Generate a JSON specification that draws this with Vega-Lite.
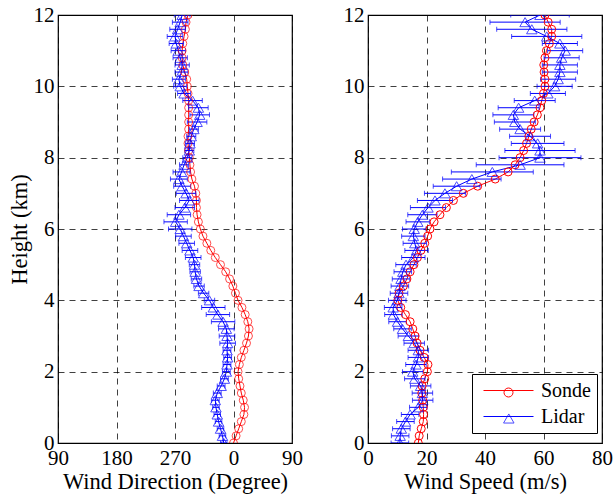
{
  "$schema": "https://vega.github.io/schema/vega-lite/v6.json",
  "padding": {"left": 7, "top": 3, "right": 5, "bottom": 2},
  "config": {
    "font": "Liberation Serif",
    "view": {"stroke": "black", "strokeWidth": 1.2},
    "axis": {
      "labelFont": "Liberation Serif", "labelFontSize": 21, "labelColor": "black",
      "titleFont": "Liberation Serif", "titleFontSize": 22.5, "titleFontWeight": "normal", "titleColor": "black",
      "grid": true, "gridColor": "black", "gridDash": [6, 5], "gridWidth": 1, "gridOpacity": 0.75,
      "domain": false, "ticks": false, "labelPadding": 4, "titlePadding": 2, "labelFlush": false
    }
  },
  "datasets": {
    "d": [
      {"h":0.0,"src":"Sonde","dir":360,"spd":17.2},
      {"h":0.2,"src":"Sonde","dir":364,"spd":17.5},
      {"h":0.4,"src":"Sonde","dir":368,"spd":18.2},
      {"h":0.6,"src":"Sonde","dir":372,"spd":18.9},
      {"h":0.8,"src":"Sonde","dir":376,"spd":19.0},
      {"h":1.0,"src":"Sonde","dir":377,"spd":18.9},
      {"h":1.2,"src":"Sonde","dir":375,"spd":18.7},
      {"h":1.4,"src":"Sonde","dir":372,"spd":18.4},
      {"h":1.6,"src":"Sonde","dir":370,"spd":18.5},
      {"h":1.8,"src":"Sonde","dir":368,"spd":19.4},
      {"h":2.0,"src":"Sonde","dir":367,"spd":20.3},
      {"h":2.2,"src":"Sonde","dir":369,"spd":20.5},
      {"h":2.4,"src":"Sonde","dir":372,"spd":19.2},
      {"h":2.6,"src":"Sonde","dir":376,"spd":17.8},
      {"h":2.8,"src":"Sonde","dir":380,"spd":16.8},
      {"h":3.0,"src":"Sonde","dir":383,"spd":16.1},
      {"h":3.2,"src":"Sonde","dir":384,"spd":15.3},
      {"h":3.4,"src":"Sonde","dir":382,"spd":14.4},
      {"h":3.6,"src":"Sonde","dir":378,"spd":12.8},
      {"h":3.8,"src":"Sonde","dir":373,"spd":11.2},
      {"h":4.0,"src":"Sonde","dir":367,"spd":10.2},
      {"h":4.2,"src":"Sonde","dir":363,"spd":10.6},
      {"h":4.4,"src":"Sonde","dir":359,"spd":12.1},
      {"h":4.6,"src":"Sonde","dir":354,"spd":13.3},
      {"h":4.8,"src":"Sonde","dir":348,"spd":14.4},
      {"h":5.0,"src":"Sonde","dir":340,"spd":15.7},
      {"h":5.2,"src":"Sonde","dir":332,"spd":16.9},
      {"h":5.4,"src":"Sonde","dir":325,"spd":18.1},
      {"h":5.6,"src":"Sonde","dir":319,"spd":19.4},
      {"h":5.8,"src":"Sonde","dir":313,"spd":20.4},
      {"h":6.0,"src":"Sonde","dir":309,"spd":21.2},
      {"h":6.2,"src":"Sonde","dir":306,"spd":22.6},
      {"h":6.4,"src":"Sonde","dir":304,"spd":24.6},
      {"h":6.6,"src":"Sonde","dir":303,"spd":26.8},
      {"h":6.8,"src":"Sonde","dir":303,"spd":29.2},
      {"h":7.0,"src":"Sonde","dir":302,"spd":32.6},
      {"h":7.2,"src":"Sonde","dir":300,"spd":37.5},
      {"h":7.4,"src":"Sonde","dir":296,"spd":43.5},
      {"h":7.6,"src":"Sonde","dir":294,"spd":47.9},
      {"h":7.8,"src":"Sonde","dir":293,"spd":50.3},
      {"h":8.0,"src":"Sonde","dir":292,"spd":52.0},
      {"h":8.2,"src":"Sonde","dir":291,"spd":53.2},
      {"h":8.4,"src":"Sonde","dir":290,"spd":54.2},
      {"h":8.6,"src":"Sonde","dir":290,"spd":55.0},
      {"h":8.8,"src":"Sonde","dir":291,"spd":55.8},
      {"h":9.0,"src":"Sonde","dir":291,"spd":56.8},
      {"h":9.2,"src":"Sonde","dir":291,"spd":57.9},
      {"h":9.4,"src":"Sonde","dir":291,"spd":58.8},
      {"h":9.6,"src":"Sonde","dir":291,"spd":59.4},
      {"h":9.8,"src":"Sonde","dir":290,"spd":60.0},
      {"h":10.0,"src":"Sonde","dir":289,"spd":60.5},
      {"h":10.2,"src":"Sonde","dir":288,"spd":60.5},
      {"h":10.4,"src":"Sonde","dir":285,"spd":60.2},
      {"h":10.6,"src":"Sonde","dir":282,"spd":60.1},
      {"h":10.8,"src":"Sonde","dir":281,"spd":60.5},
      {"h":11.0,"src":"Sonde","dir":281,"spd":61.0},
      {"h":11.2,"src":"Sonde","dir":282,"spd":62.0},
      {"h":11.4,"src":"Sonde","dir":284,"spd":62.8},
      {"h":11.6,"src":"Sonde","dir":286,"spd":62.8},
      {"h":11.8,"src":"Sonde","dir":287,"spd":61.6},
      {"h":12.0,"src":"Sonde","dir":290,"spd":60.5},
      {"h":0.0,"src":"Lidar","dir":345,"spd":10.9,"de":5,"se":3},
      {"h":0.2,"src":"Lidar","dir":343,"spd":11.0,"de":5,"se":3},
      {"h":0.4,"src":"Lidar","dir":340,"spd":11.4,"de":5,"se":3},
      {"h":0.6,"src":"Lidar","dir":337,"spd":12.8,"de":5,"se":3},
      {"h":0.8,"src":"Lidar","dir":335,"spd":14.4,"de":5,"se":3},
      {"h":1.0,"src":"Lidar","dir":333,"spd":17.2,"de":5,"se":3},
      {"h":1.2,"src":"Lidar","dir":332,"spd":18.7,"de":6,"se":3.5},
      {"h":1.4,"src":"Lidar","dir":335,"spd":18.6,"de":6,"se":3.5},
      {"h":1.6,"src":"Lidar","dir":341,"spd":18.0,"de":6,"se":3.5},
      {"h":1.8,"src":"Lidar","dir":346,"spd":16.0,"de":6,"se":3.5},
      {"h":2.0,"src":"Lidar","dir":349,"spd":15.3,"de":6,"se":3.5},
      {"h":2.2,"src":"Lidar","dir":350,"spd":16.4,"de":6,"se":3.5},
      {"h":2.4,"src":"Lidar","dir":351,"spd":17.2,"de":6,"se":3.5},
      {"h":2.6,"src":"Lidar","dir":350,"spd":17.2,"de":6,"se":3.5},
      {"h":2.8,"src":"Lidar","dir":351,"spd":15.8,"de":12,"se":3.5},
      {"h":3.0,"src":"Lidar","dir":350,"spd":13.8,"de":12,"se":3.5},
      {"h":3.2,"src":"Lidar","dir":349,"spd":11.8,"de":12,"se":3},
      {"h":3.4,"src":"Lidar","dir":344,"spd":10.1,"de":18,"se":3},
      {"h":3.6,"src":"Lidar","dir":336,"spd":8.7,"de":18,"se":3},
      {"h":3.8,"src":"Lidar","dir":329,"spd":8.6,"de":18,"se":3},
      {"h":4.0,"src":"Lidar","dir":323,"spd":10.0,"de":8,"se":3},
      {"h":4.2,"src":"Lidar","dir":314,"spd":10.6,"de":8,"se":3},
      {"h":4.4,"src":"Lidar","dir":307,"spd":10.9,"de":8,"se":3},
      {"h":4.6,"src":"Lidar","dir":303,"spd":11.3,"de":8,"se":3},
      {"h":4.8,"src":"Lidar","dir":301,"spd":11.9,"de":8,"se":3},
      {"h":5.0,"src":"Lidar","dir":300,"spd":13.0,"de":8,"se":3.5},
      {"h":5.2,"src":"Lidar","dir":298,"spd":15.5,"de":12,"se":4},
      {"h":5.4,"src":"Lidar","dir":293,"spd":16.6,"de":12,"se":4},
      {"h":5.6,"src":"Lidar","dir":288,"spd":16.0,"de":12,"se":4},
      {"h":5.8,"src":"Lidar","dir":283,"spd":15.5,"de":12,"se":4},
      {"h":6.0,"src":"Lidar","dir":278,"spd":15.8,"de":18,"se":4},
      {"h":6.2,"src":"Lidar","dir":271,"spd":17.0,"de":18,"se":4},
      {"h":6.4,"src":"Lidar","dir":276,"spd":18.6,"de":18,"se":5},
      {"h":6.6,"src":"Lidar","dir":285,"spd":20.5,"de":15,"se":6},
      {"h":6.8,"src":"Lidar","dir":292,"spd":22.9,"de":15,"se":6},
      {"h":7.0,"src":"Lidar","dir":287,"spd":26.3,"de":15,"se":7},
      {"h":7.2,"src":"Lidar","dir":281,"spd":30.3,"de":13,"se":8},
      {"h":7.4,"src":"Lidar","dir":276,"spd":35.5,"de":13,"se":10},
      {"h":7.6,"src":"Lidar","dir":280,"spd":42.5,"de":13,"se":14},
      {"h":7.8,"src":"Lidar","dir":284,"spd":52.0,"de":7,"se":15},
      {"h":8.0,"src":"Lidar","dir":289,"spd":58.8,"de":7,"se":14},
      {"h":8.2,"src":"Lidar","dir":292,"spd":58.8,"de":7,"se":12},
      {"h":8.4,"src":"Lidar","dir":293,"spd":58.0,"de":7,"se":9},
      {"h":8.6,"src":"Lidar","dir":295,"spd":55.4,"de":7,"se":7},
      {"h":8.8,"src":"Lidar","dir":299,"spd":52.0,"de":7,"se":7},
      {"h":9.0,"src":"Lidar","dir":304,"spd":50.2,"de":15,"se":7},
      {"h":9.2,"src":"Lidar","dir":308,"spd":49.7,"de":15,"se":7},
      {"h":9.4,"src":"Lidar","dir":306,"spd":51.5,"de":15,"se":7},
      {"h":9.6,"src":"Lidar","dir":297,"spd":57.0,"de":15,"se":7},
      {"h":9.8,"src":"Lidar","dir":284,"spd":61.5,"de":10,"se":6},
      {"h":10.0,"src":"Lidar","dir":278,"spd":63.8,"de":10,"se":6},
      {"h":10.2,"src":"Lidar","dir":276,"spd":65.0,"de":10,"se":6},
      {"h":10.4,"src":"Lidar","dir":280,"spd":65.6,"de":10,"se":6},
      {"h":10.6,"src":"Lidar","dir":281,"spd":65.6,"de":11,"se":6},
      {"h":10.8,"src":"Lidar","dir":278,"spd":66.2,"de":11,"se":6},
      {"h":11.0,"src":"Lidar","dir":275,"spd":67.4,"de":11,"se":6},
      {"h":11.2,"src":"Lidar","dir":272,"spd":65.6,"de":11,"se":6},
      {"h":11.4,"src":"Lidar","dir":270,"spd":61.1,"de":12,"se":12},
      {"h":11.6,"src":"Lidar","dir":274,"spd":56.0,"de":12,"se":12},
      {"h":11.8,"src":"Lidar","dir":278,"spd":53.7,"de":12,"se":12},
      {"h":12.0,"src":"Lidar","dir":281,"spd":58.8,"de":12,"se":10}
    ]
  },
  "data": {"name": "d"},
  "spacing": 38,
  "resolve": {"scale": {"color": "independent", "opacity": "independent", "size": "independent"}, "legend": {"color": "independent", "opacity": "independent", "size": "independent"}},
  "hconcat": [
    {
      "width": 234, "height": 428,
      "layer": [
        {
          "mark": {"type": "line", "strokeWidth": 1, "clip": true},
          "encoding": {
            "x": {"field": "dir", "type": "quantitative", "title": "Wind Direction (Degree)", "scale": {"domain": [90, 450], "nice": false, "zero": false},
                  "axis": {"values": [90, 180, 270, 360, 450], "labelExpr": "datum.value % 360"}},
            "y": {"field": "h", "type": "quantitative", "title": "Height (km)", "scale": {"domain": [0, 12], "nice": false},
                  "axis": {"values": [0, 2, 4, 6, 8, 10, 12]}},
            "color": {"field": "src", "type": "nominal", "scale": {"domain": ["Sonde", "Lidar"], "range": ["#ff0000", "#0000ff"]}, "legend": null},
            "order": {"field": "h", "type": "quantitative"}
          }
        },
        {
          "transform": [{"filter": "datum.src === 'Lidar'"}],
          "mark": {"type": "errorbar", "ticks": {"size": 5}, "color": "#0000ff", "clip": true},
          "encoding": {
            "x": {"field": "dir", "type": "quantitative", "title": "Wind Direction (Degree)"},
            "xError": {"field": "de"},
            "y": {"field": "h", "type": "quantitative", "title": "Height (km)"}
          }
        },
        {
          "transform": [{"filter": "datum.src === 'Sonde'"}],
          "mark": {"type": "point", "shape": "circle", "filled": false, "color": "#ff0000", "size": 64, "strokeWidth": 1, "clip": true},
          "encoding": {
            "x": {"field": "dir", "type": "quantitative", "title": "Wind Direction (Degree)"},
            "y": {"field": "h", "type": "quantitative", "title": "Height (km)"}
          }
        },
        {
          "transform": [{"filter": "datum.src === 'Lidar'"}],
          "mark": {"type": "point", "shape": "triangle-up", "filled": false, "color": "#0000ff", "size": 110, "strokeWidth": 1, "clip": true},
          "encoding": {
            "x": {"field": "dir", "type": "quantitative", "title": "Wind Direction (Degree)"},
            "y": {"field": "h", "type": "quantitative", "title": "Height (km)"}
          }
        }
      ]
    },
    {
      "width": 234, "height": 428,
      "layer": [
        {
          "mark": {"type": "line", "strokeWidth": 1, "clip": true},
          "encoding": {
            "x": {"field": "spd", "type": "quantitative", "title": "Wind Speed (m/s)", "scale": {"domain": [0, 80], "nice": false},
                  "axis": {"values": [0, 20, 40, 60, 80]}},
            "y": {"field": "h", "type": "quantitative", "title": null, "scale": {"domain": [0, 12], "nice": false},
                  "axis": {"values": [0, 2, 4, 6, 8, 10, 12]}},
            "color": {"field": "src", "type": "nominal", "scale": {"domain": ["Sonde", "Lidar"], "range": ["#ff0000", "#0000ff"]},
                      "legend": {
                        "orient": "none", "legendX": 104, "legendY": 359, "title": null,
                        "strokeColor": "black", "fillColor": "white", "padding": 6,
                        "labelFont": "Liberation Serif", "labelFontSize": 20, "labelColor": "black",
                        "symbolType": "M-1,0H4", "symbolSize": 400, "symbolOffset": 5, "labelOffset": 37, "rowPadding": 5, "symbolStrokeWidth": 1
                      }},
            "order": {"field": "h", "type": "quantitative"}
          }
        },
        {
          "transform": [{"filter": "datum.src === 'Lidar'"}],
          "mark": {"type": "errorbar", "ticks": {"size": 5}, "color": "#0000ff", "clip": true},
          "encoding": {
            "x": {"field": "spd", "type": "quantitative", "title": "Wind Speed (m/s)"},
            "xError": {"field": "se"},
            "y": {"field": "h", "type": "quantitative", "title": null}
          }
        },
        {
          "transform": [{"filter": "datum.src === 'Sonde'"}],
          "mark": {"type": "point", "shape": "circle", "filled": false, "color": "#ff0000", "size": 64, "strokeWidth": 1, "clip": true},
          "encoding": {
            "x": {"field": "spd", "type": "quantitative", "title": "Wind Speed (m/s)"},
            "y": {"field": "h", "type": "quantitative", "title": null},
            "opacity": {"field": "src", "type": "nominal", "scale": {"type": "ordinal", "domain": ["Sonde"], "range": [1]},
                        "legend": {
                          "orient": "none", "legendX": 135.5, "legendY": 372.5, "title": null, "padding": 0,
                          "labelExpr": "''", "labelFontSize": 1, "labelOffset": 0,
                          "symbolSize": 81, "symbolOffset": 0, "symbolStrokeWidth": 1
                        }}
          }
        },
        {
          "transform": [{"filter": "datum.src === 'Lidar'"}],
          "mark": {"type": "point", "shape": "triangle-up", "filled": false, "color": "#0000ff", "strokeWidth": 1, "clip": true},
          "encoding": {
            "x": {"field": "spd", "type": "quantitative", "title": "Wind Speed (m/s)"},
            "y": {"field": "h", "type": "quantitative", "title": null},
            "size": {"field": "src", "type": "nominal", "scale": {"type": "ordinal", "domain": ["Lidar"], "range": [110]},
                     "legend": {
                       "orient": "none", "legendX": 134.8, "legendY": 397.5, "title": null, "padding": 0,
                       "labelExpr": "''", "labelFontSize": 1, "labelOffset": 0,
                       "symbolOffset": 0, "symbolStrokeWidth": 1
                     }}
          }
        }
      ]
    }
  ]
}
